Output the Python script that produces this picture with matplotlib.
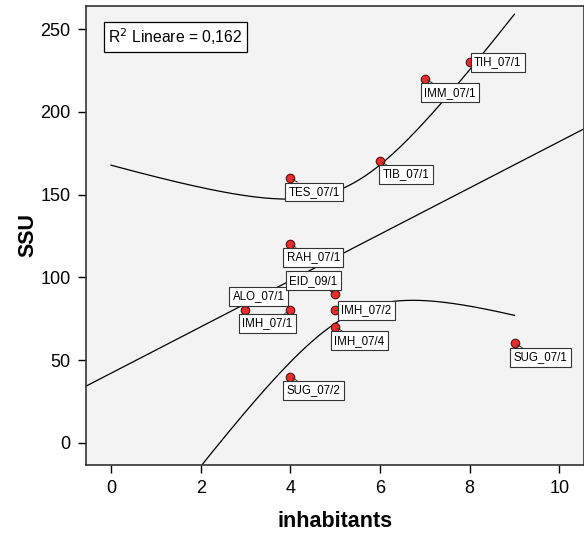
import numpy as np
import matplotlib
matplotlib.use("Agg")
import matplotlib.pyplot as plt

plt.rcParams['font.family'] = ['Liberation Sans', 'DejaVu Sans']

# abitanti per unità e valori SSU
labels = ['ALO_07/1', 'IMH_07/1', 'SUG_07/2', 'RAH_07/1', 'TES_07/1', 'EID_09/1',
          'IMH_07/2', 'IMH_07/4', 'TIB_07/1', 'IMM_07/1', 'TIH_07/1', 'SUG_07/1']
inhabitants = [3, 4, 4, 4, 4, 5, 5, 5, 6, 7, 8, 9]
ssu = [80, 80, 40, 120, 160, 90, 80, 70, 170, 220, 230, 60]

# posizione delle etichette (pixel rispetto al punto)
offsets = [(13, 14), (-23, -13), (23, -14), (23, -13), (24, -14), (-22, 13),
           (31, 0), (24, -14), (26, -13), (25, -14), (28, 0), (26, -14)]

x = np.array(inhabitants, dtype=float)
y = np.array(ssu, dtype=float)
n = len(x)

# regressione lineare + intervallo di confidenza 95% della media
b, a = np.polyfit(x, y, 1)
yhat = a + b * x
r2 = 1 - np.sum((y - yhat) ** 2) / np.sum((y - y.mean()) ** 2)
s = np.sqrt(np.sum((y - yhat) ** 2) / (n - 2))
sxx = np.sum((x - x.mean()) ** 2)
t = 2.228  # t(0.975, df=10)

xg = np.linspace(0, 9, 300)
yg = a + b * xg
hw = t * s * np.sqrt(1 / n + (xg - x.mean()) ** 2 / sxx)

fig = plt.figure(figsize=(5.84, 5.34), dpi=100)
ax = fig.add_axes([0.147, 0.129, 0.853, 0.860])
ax.set_facecolor('#f3f3f3')

xl = np.array([-0.6, 10.6])
ax.plot(xl, a + b * xl, color='black', lw=0.9)
ax.plot(xg, yg + hw, color='black', lw=0.9)
ax.plot(xg, yg - hw, color='black', lw=0.9)

ax.scatter(x, y, s=38, color='#e03030', edgecolor='#5a1010', linewidth=0.8, zorder=5)

for lab, xi, yi, off in zip(labels, x, y, offsets):
    ax.annotate(lab, (xi, yi), xytext=off, textcoords='offset pixels',
                ha='center', va='center', fontsize=8.3, zorder=6,
                bbox=dict(boxstyle='square,pad=0.3', fc='white', ec='#333333', lw=0.8),
                arrowprops=dict(arrowstyle='-', color='#333333', lw=0.7,
                                shrinkA=0, shrinkB=2))

ax.text(0.045, 0.955, r'R$^2$ Lineare = ' + f'{r2:.3f}'.replace('.', ','),
        transform=ax.transAxes, fontsize=11.3, va='top', ha='left',
        bbox=dict(boxstyle='square,pad=0.28', fc='white', ec='black', lw=0.9))

ax.set_xlim(-0.56, 10.55)
ax.set_ylim(-13.5, 264)
ax.set_xticks([0, 2, 4, 6, 8, 10])
ax.set_yticks([0, 50, 100, 150, 200, 250])
ax.tick_params(direction='out', length=6, labelsize=13, width=1, pad=5)
for sp in ax.spines.values():
    sp.set_linewidth(1.2)
    sp.set_color('#333333')

ax.set_xlabel('inhabitants', fontsize=15.5, fontweight='bold', labelpad=10)
ax.set_ylabel('SSU', fontsize=15.5, fontweight='bold', labelpad=1)

fig.savefig('out.png', dpi=100)
